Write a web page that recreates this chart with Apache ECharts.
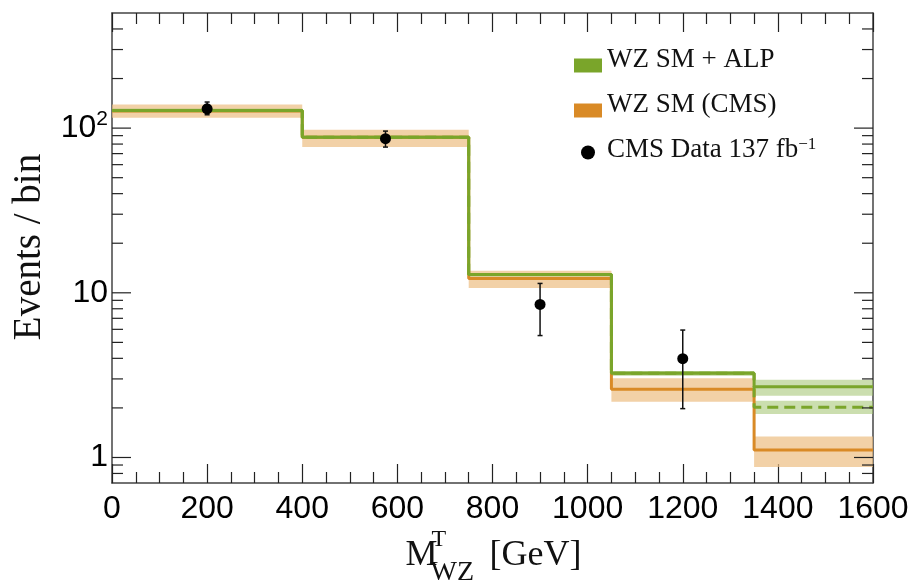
<!DOCTYPE html>
<html>
<head>
<meta charset="utf-8">
<script src="https://cdn.jsdelivr.net/npm/echarts@6/dist/echarts.min.js"></script>
<style>html,body{margin:0;padding:0;background:#fff}#c{width:916px;height:581px}</style>
</head>
<body>
<div id="c"></div>
<script>
// ---- data ----
const binEdges   = [0, 400, 750, 1050, 1350, 1600];
const alpSolid   = [128, 88, 12.9, 3.25, 2.69];
const alpDashed  = [128, 88, 12.9, 3.25, 2.02];
const alpSolidLo = [125, 86, 12.6, 3.15, 2.37];
const alpSolidHi = [131, 90, 13.2, 3.35, 2.96];
const alpDashLo  = [125, 86, 12.6, 3.15, 1.84];
const alpDashHi  = [131, 90, 13.2, 3.35, 2.21];
const smCMS      = [127, 88, 12.2, 2.6, 1.11];
const smLo       = [115.6, 76.7, 10.7, 2.18, 0.875];
const smHi       = [139, 97.8, 13.6, 3.03, 1.34];
const dataX      = [200, 575, 900, 1200];
const dataY      = [131, 86.2, 8.5, 3.98];
const dataLo     = [120.5, 76.7, 5.5, 1.98];
const dataHi     = [144, 95.9, 11.4, 5.94];
const xTicks     = [0, 200, 400, 600, 800, 1000, 1200, 1400, 1600];
const yMajorTicks = [1, 10, 100];
const yMinorTicks = [0.8, 0.9, 2, 3, 4, 5, 6, 7, 8, 9, 20, 30, 40, 50, 60, 70, 80, 90, 200, 300, 400];

const GREEN = '#7aa52a';
const ORANGE = '#d98a26';
const ORANGE_BAND = 'rgba(236,190,130,0.70)';
const GREEN_BAND = 'rgba(160,195,110,0.55)';
const XMIN = 0, XMAX = 1600, YMIN = 0.7, YMAX = 500;

function stepData(vals) {
  const d = vals.map((v, i) => [binEdges[i], v]);
  d.push([binEdges[binEdges.length - 1], vals[vals.length - 1]]);
  return d;
}
function bandData(lo, hi) {
  return lo.map((l, i) => [binEdges[i], binEdges[i + 1], l, hi[i]]);
}
function bandRender(color) {
  return function (params, api) {
    const p0 = api.coord([api.value(0), api.value(3)]);
    const p1 = api.coord([api.value(1), api.value(2)]);
    const r = echarts.graphic.clipRectByRect(
      { x: p0[0], y: p0[1], width: p1[0] - p0[0], height: p1[1] - p0[1] },
      params.coordSys);
    return r ? { type: 'rect', shape: r, style: { fill: color } } : null;
  };
}

const serif = 'Liberation Serif';
const sans = 'Liberation Sans';

const chart = echarts.init(document.getElementById('c'), null, { renderer: 'canvas' });
chart.setOption({
  animation: false,
  backgroundColor: '#fff',
  grid: { left: 112, right: 43, top: 13, bottom: 98, containLabel: false },
  legend: {
    orient: 'vertical',
    left: 574, top: 46, padding: 0,
    itemWidth: 28, itemHeight: 14, itemGap: 18,
    selectedMode: false,
    textStyle: {
      fontFamily: serif, fontSize: 27, color: '#111',
      padding: [0, 0, 12, 0],
      rich: { sup: { fontFamily: serif, fontSize: 17, verticalAlign: 'top', lineHeight: 17 } }
    },
    formatter: function (name) {
      return name.indexOf('fb') >= 0 ? 'CMS Data 137 fb{sup|−1}' : name;
    },
    data: [
      { name: 'WZ SM + ALP', icon: 'rect', itemStyle: { color: GREEN } },
      { name: 'WZ SM (CMS)', icon: 'rect', itemStyle: { color: ORANGE } },
      { name: 'CMS Data 137 fb-1', icon: 'circle', itemStyle: { color: '#000', opacity: 1 },
        textStyle: { padding: [0, 0, 6, 0] } }
    ]
  },
  xAxis: [{
    type: 'value', min: XMIN, max: XMAX, interval: 200, position: 'bottom',
    axisLine: { show: true, onZero: false, lineStyle: { color: '#444', width: 1.5 } },
    axisTick: { show: true, inside: true, length: 19, lineStyle: { color: '#222', width: 1.2 } },
    minorTick: { show: true, splitNumber: 4, length: 11, lineStyle: { color: '#222', width: 1.2 } },
    splitLine: { show: false },
    axisLabel: { fontFamily: sans, fontSize: 32, color: '#000', margin: 10,
      formatter: v => xTicks.indexOf(v) >= 0 ? String(v) : '' }
  }, {
    type: 'value', min: XMIN, max: XMAX, interval: 200, position: 'top',
    axisLine: { show: true, onZero: false, lineStyle: { color: '#444', width: 1.5 } },
    axisTick: { show: true, inside: true, length: 19, lineStyle: { color: '#222', width: 1.2 } },
    minorTick: { show: true, splitNumber: 4, length: 11, lineStyle: { color: '#222', width: 1.2 } },
    splitLine: { show: false },
    axisLabel: { show: false }
  }],
  yAxis: [{
    type: 'log', logBase: 10, min: YMIN, max: YMAX, position: 'left',
    axisLine: { show: true, onZero: false, lineStyle: { color: '#444', width: 1.5 } },
    axisTick: { show: false },
    splitLine: { show: false },
    axisLabel: {
      fontFamily: sans, fontSize: 32, color: '#000', margin: 4,
      showMinLabel: false, showMaxLabel: false,
      formatter: function (v) {
        if (Math.abs(v - 100) < 1e-6) return '10{sup|2}';
        if (Math.abs(v - 10) < 1e-6) return '10';
        if (Math.abs(v - 1) < 1e-6) return '1';
        return '';
      },
      rich: { sup: { fontFamily: sans, fontSize: 21, padding: [0, 0, 18, 0], color: '#000' } }
    }
  }, {
    type: 'log', logBase: 10, min: YMIN, max: YMAX, position: 'right',
    axisLine: { show: true, onZero: false, lineStyle: { color: '#444', width: 1.5 } },
    axisTick: { show: false }, splitLine: { show: false }, axisLabel: { show: false }
  }],
  series: [
    { type: 'custom', name: 'smBand', silent: true, z: 1,
      renderItem: bandRender(ORANGE_BAND), data: bandData(smLo, smHi),
      encode: { x: [0, 1], y: [2, 3] } },
    { type: 'custom', name: 'alpBand', silent: true, z: 2,
      renderItem: bandRender(GREEN_BAND), data: bandData(alpSolidLo, alpSolidHi),
      encode: { x: [0, 1], y: [2, 3] } },
    { type: 'custom', name: 'alpDashBand', silent: true, z: 2,
      renderItem: bandRender(GREEN_BAND), data: bandData(alpDashLo, alpDashHi),
      encode: { x: [0, 1], y: [2, 3] } },
    { type: 'line', name: 'WZ SM (CMS)', step: 'end', symbol: 'none', z: 3,
      lineStyle: { color: ORANGE, width: 3 }, itemStyle: { color: ORANGE },
      data: stepData(smCMS) },
    { type: 'line', name: 'WZ SM + ALP', step: 'end', symbol: 'none', z: 4,
      lineStyle: { color: GREEN, width: 3 }, itemStyle: { color: GREEN },
      data: stepData(alpSolid) },
    { type: 'line', name: 'alpDashed', step: 'end', symbol: 'none', z: 5,
      lineStyle: { color: GREEN, width: 3, type: [11, 6] },
      data: stepData(alpDashed) },
    { type: 'custom', name: 'errbars', silent: true, z: 6,
      data: dataX.map((x, i) => [x, dataLo[i], dataHi[i]]),
      encode: { x: 0, y: [1, 2] },
      renderItem: function (params, api) {
        const lo = api.coord([api.value(0), api.value(1)]);
        const hi = api.coord([api.value(0), api.value(2)]);
        const st = { stroke: '#111', lineWidth: 1.5 };
        return { type: 'group', children: [
          { type: 'line', shape: { x1: lo[0], y1: lo[1], x2: hi[0], y2: hi[1] }, style: st },
          { type: 'line', shape: { x1: lo[0] - 2.5, y1: lo[1], x2: lo[0] + 2.5, y2: lo[1] }, style: st },
          { type: 'line', shape: { x1: hi[0] - 2.5, y1: hi[1], x2: hi[0] + 2.5, y2: hi[1] }, style: st }
        ] };
      } },
    { type: 'scatter', name: 'CMS Data 137 fb-1', symbol: 'circle', symbolSize: 11, z: 7,
      itemStyle: { color: '#000', opacity: 1 },
      data: dataX.map((x, i) => [x, dataY[i]]) },
    { type: 'custom', name: 'yticks', silent: true, z: 8, clip: false,
      data: yMajorTicks.map(v => [XMIN, v, 1]).concat(yMinorTicks.map(v => [XMIN, v, 0])),
      encode: { x: 0, y: 1 },
      renderItem: function (params, api) {
        const v = api.value(1);
        const len = api.value(2) ? 19 : 11;
        const pl = api.coord([XMIN, v]);
        const pr = api.coord([XMAX, v]);
        const st = { stroke: '#222', lineWidth: 1.2 };
        return { type: 'group', children: [
          { type: 'line', shape: { x1: pl[0], y1: pl[1], x2: pl[0] + len, y2: pl[1] }, style: st },
          { type: 'line', shape: { x1: pr[0], y1: pr[1], x2: pr[0] - len, y2: pr[1] }, style: st }
        ] };
      } }
  ]
});

// axis titles as real text, placed relative to the grid
const gx0 = chart.convertToPixel({ xAxisIndex: 0 }, XMIN);
const gx1 = chart.convertToPixel({ xAxisIndex: 0 }, XMAX);
const cx = (gx0 + gx1) / 2;
chart.setOption({
  graphic: [
    { type: 'text', id: 'ytitle', x: 10, y: 247, rotation: Math.PI / 2,
      style: { text: 'Events / bin', fontFamily: serif, fontSize: 39, fill: '#111',
        align: 'center', verticalAlign: 'top' } },
    { type: 'text', id: 'xM', x: cx - 87, y: 574,
      style: { text: 'M', fontFamily: serif, fontSize: 36, fill: '#111', align: 'left', verticalAlign: 'bottom' } },
    { type: 'text', id: 'xT', x: cx - 61, y: 552,
      style: { text: 'T', fontFamily: serif, fontSize: 24, fill: '#111', align: 'left', verticalAlign: 'bottom' } },
    { type: 'text', id: 'xWZ', x: cx - 62, y: 587,
      style: { text: 'WZ', fontFamily: serif, fontSize: 28, fill: '#111', align: 'left', verticalAlign: 'bottom' } },
    { type: 'text', id: 'xGeV', x: cx - 3, y: 574,
      style: { text: '[GeV]', fontFamily: serif, fontSize: 36, fill: '#111', align: 'left', verticalAlign: 'bottom' } }
  ]
});
</script>
</body>
</html>
